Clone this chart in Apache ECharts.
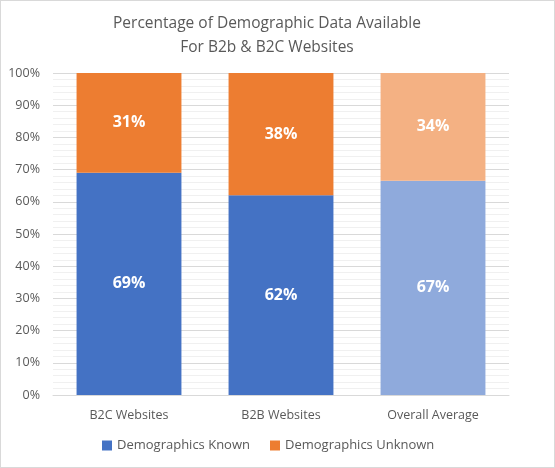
<!DOCTYPE html>
<html>
<head>
<meta charset="utf-8">
<script src="https://cdn.jsdelivr.net/npm/echarts@6/dist/echarts.min.js"></script>
<style>
  html, body { margin: 0; padding: 0; background: #fff; }
  #chart { width: 553px; height: 466px; border: 1px solid #d9d9d9; }
</style>
</head>
<body>
<div id="chart"></div>
<script>
var categories = ['B2C Websites', 'B2B Websites', 'Overall Average']
var knownValues = [69, 62, 66.5]
var unknownValues = [31, 38, 33.5]
var yTicks = [0, 10, 20, 30, 40, 50, 60, 70, 80, 90, 100]

var knownColors = ['#4472C4', '#4472C4', '#8FAADC']
var unknownColors = ['#ED7D31', '#ED7D31', '#F4B183']

var mychart = echarts.init(document.getElementById('chart'))

var label = {
  show: true,
  position: 'inside',
  color: '#fff',
  fontWeight: 'bold',
  fontSize: 16,
  fontFamily: 'Open Sans',
  formatter: function (p) { return Math.round(p.value) + '%' }
}

var option = {
  animation: false,
  title: {
    text: 'Percentage of Demographic Data Available\nFor B2b & B2C Websites',
    left: 261,
    textAlign: 'center',
    top: 6,
    textStyle: { color: '#595959', fontSize: 15.5, fontWeight: 'normal', fontFamily: 'Open Sans', lineHeight: 24 }
  },
  legend: {
    left: 96,
    bottom: 10,
    itemWidth: 10,
    itemHeight: 10,
    itemGap: 20,
    icon: 'rect',
    textStyle: { color: '#595959', fontSize: 13, fontFamily: 'Open Sans' },
    data: [
      { name: 'Demographics Known', itemStyle: { color: '#4472C4' } },
      { name: 'Demographics Unknown', itemStyle: { color: '#ED7D31' } }
    ]
  },
  grid: { left: 52, right: 45, top: 72, bottom: 72 },
  xAxis: {
    type: 'category',
    data: categories,
    axisLine: { lineStyle: { color: '#d9d9d9' } },
    axisTick: { show: false },
    axisLabel: { color: '#595959', fontSize: 12.5, fontFamily: 'Open Sans', margin: 14 }
  },
  yAxis: {
    type: 'value',
    min: yTicks[0],
    max: yTicks[yTicks.length - 1],
    interval: 10,
    axisLabel: { color: '#595959', fontSize: 12.5, fontFamily: 'Open Sans', margin: 13, formatter: '{value}%' },
    axisLine: { show: false },
    axisTick: { show: false },
    splitLine: { lineStyle: { color: '#d9d9d9' } },
    minorTick: { show: false, splitNumber: 5 },
    minorSplitLine: { show: true, lineStyle: { color: '#f0f0f0' } }
  },
  series: [
    {
      name: 'Demographics Known',
      type: 'bar',
      stack: 'total',
      barCategoryGap: '31%',
      label: label,
      data: knownValues.map(function (v, i) { return { value: v, itemStyle: { color: knownColors[i] } } })
    },
    {
      name: 'Demographics Unknown',
      type: 'bar',
      stack: 'total',
      barCategoryGap: '31%',
      label: label,
      data: unknownValues.map(function (v, i) { return { value: v, itemStyle: { color: unknownColors[i] } } })
    }
  ]
}

mychart.setOption(option)
</script>
</body>
</html>
